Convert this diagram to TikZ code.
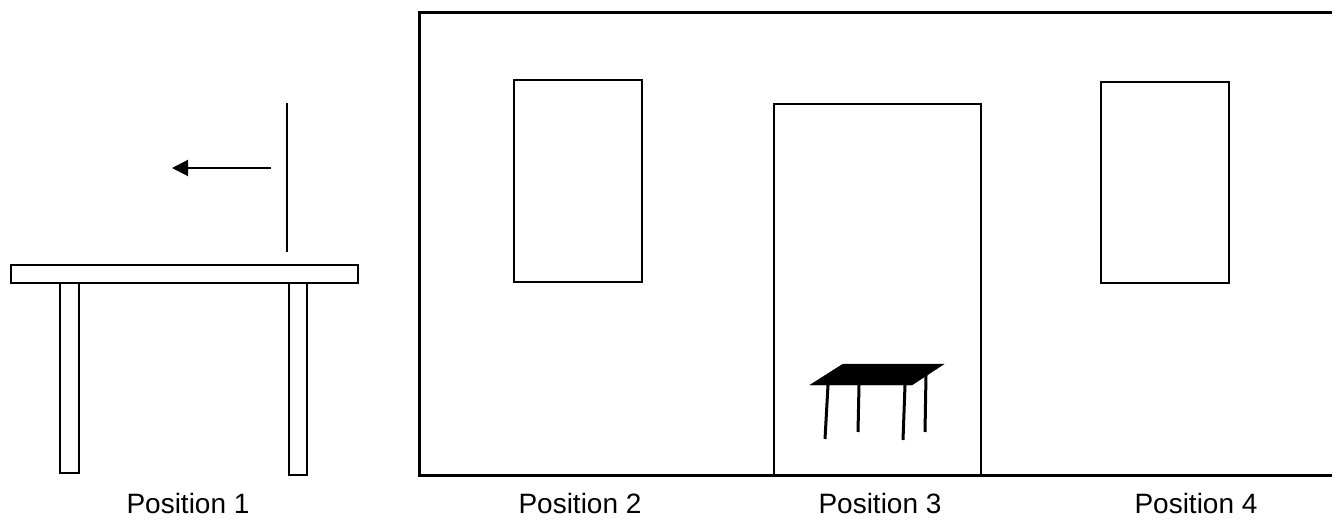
\documentclass[tikz,border=0pt]{standalone}
\usepackage{fontspec}
\setmainfont{Liberation Sans}
\usetikzlibrary{arrows.meta}
\tikzset{poslabel/.style={anchor=base, font=\fontsize{28}{32}\selectfont}}

\begin{document}
\begin{tikzpicture}[x=1pt, y=-1pt]
			%%%%% START %%%%%
			\useasboundingbox (0, 0) rectangle (1332, 521);
			\clip (0, 0) rectangle (1332, 521);
			
			% table seen from the side
			\draw[line width=2.5pt] (11, 265) rectangle (358, 283);
			\draw[line width=2pt] (60, 283) rectangle (79, 473);
			\draw[line width=2pt] (289, 283) rectangle (307, 475);
			\draw[line width=1.3pt] (287, 103) -- (287, 252);
			\draw[line width=2pt, -{Triangle[length=16pt, width=16pt]}] (271, 168) -- (172, 168);
			
			% wall
			\draw[line width=3pt] (1345, 12.5) -- (419, 12.5) -- (419, 475) -- (1345, 475);
			\draw[line width=2.5pt] (514, 80) rectangle (642, 282);
			\draw[line width=2.5pt] (774, 475) -- (774, 104) -- (981, 104) -- (981, 475);
			\draw[line width=2.5pt] (1101, 82) rectangle (1229, 283);
			
			% small table in the door
			\draw[fill=black] (810, 385) -- (843, 364) -- (944, 364) -- (912, 385) -- cycle;
			\draw[line width=3pt] (828, 385) -- (825, 439);
			\draw[line width=3pt] (859, 385) -- (858, 432);
			\draw[line width=3pt] (905, 385) -- (903, 440);
			\draw[line width=3pt] (926, 375) -- (925, 432);
			
			\node[poslabel] (pos1) at (188, 513) {Position 1};
			\node[poslabel] (pos2) at (580, 513) {Position 2};
			\node[poslabel] (pos3) at (880, 513) {Position 3};
			\node[poslabel] (pos4) at (1196, 513) {Position 4};
			%%%%% END %%%%%
		\end{tikzpicture}
\end{document}
